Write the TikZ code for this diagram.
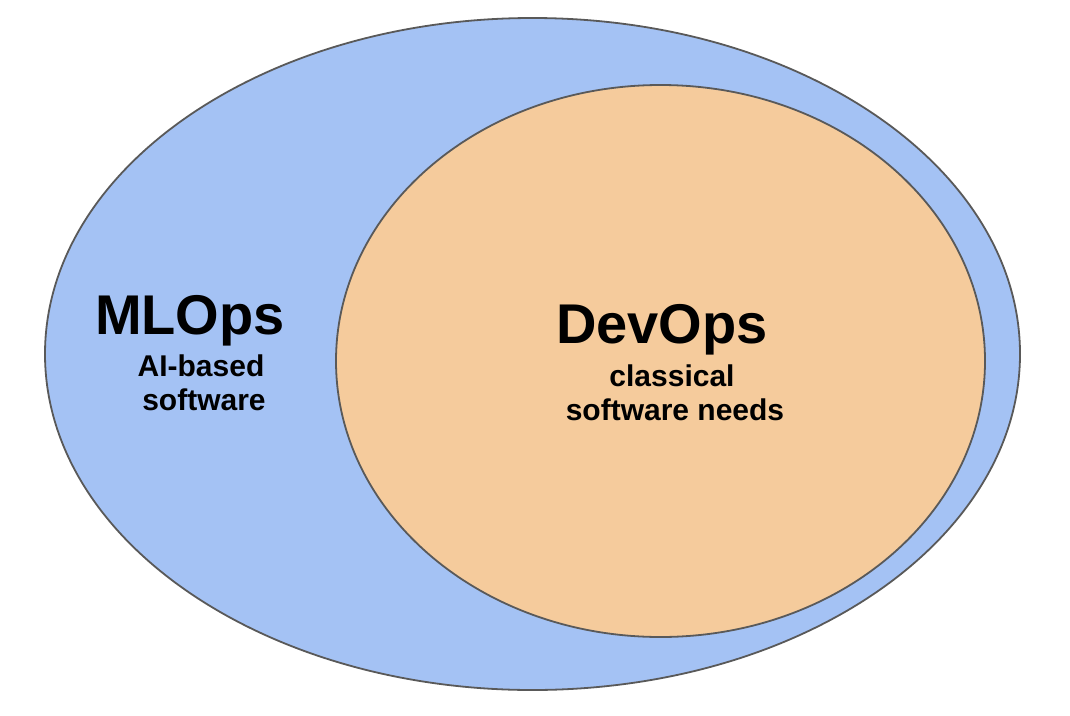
\documentclass[tikz,border=0pt]{standalone}
\usepackage{fontspec}
\setmainfont{Liberation Sans}
\definecolor{outerblue}{HTML}{A4C2F4}
\definecolor{innerorange}{HTML}{F5CB9C}
\definecolor{edgegray}{HTML}{595959}
\begin{document}
\begin{tikzpicture}[x=1pt,y=-1pt,
  blob/.style={draw=edgegray,line width=1.8pt},
  title/.style={font=\bfseries\fontsize{56}{62}\selectfont,inner sep=0pt,anchor=base},
  sub/.style={font=\bfseries\fontsize{30}{34}\selectfont,inner sep=0pt,anchor=base}]
\useasboundingbox[fill=white] (0,0) rectangle (1070,715);
\path[blob,fill=outerblue] (532.5,354) ellipse [x radius=487.5,y radius=336];
\path[blob,fill=innerorange] (660.5,361) ellipse [x radius=324.5,y radius=276];
\node[title] (ml) at (190,334) {MLOps};
\node[sub] (ml1) at (201,376) {AI-based};
\node[sub] (ml2) at (204,410) {software};
\node[title] (dev) at (662,343) {DevOps};
\node[sub] (dev1) at (672,386) {classical};
\node[sub] (dev2) at (675,420) {software needs};
\end{tikzpicture}
\end{document}
